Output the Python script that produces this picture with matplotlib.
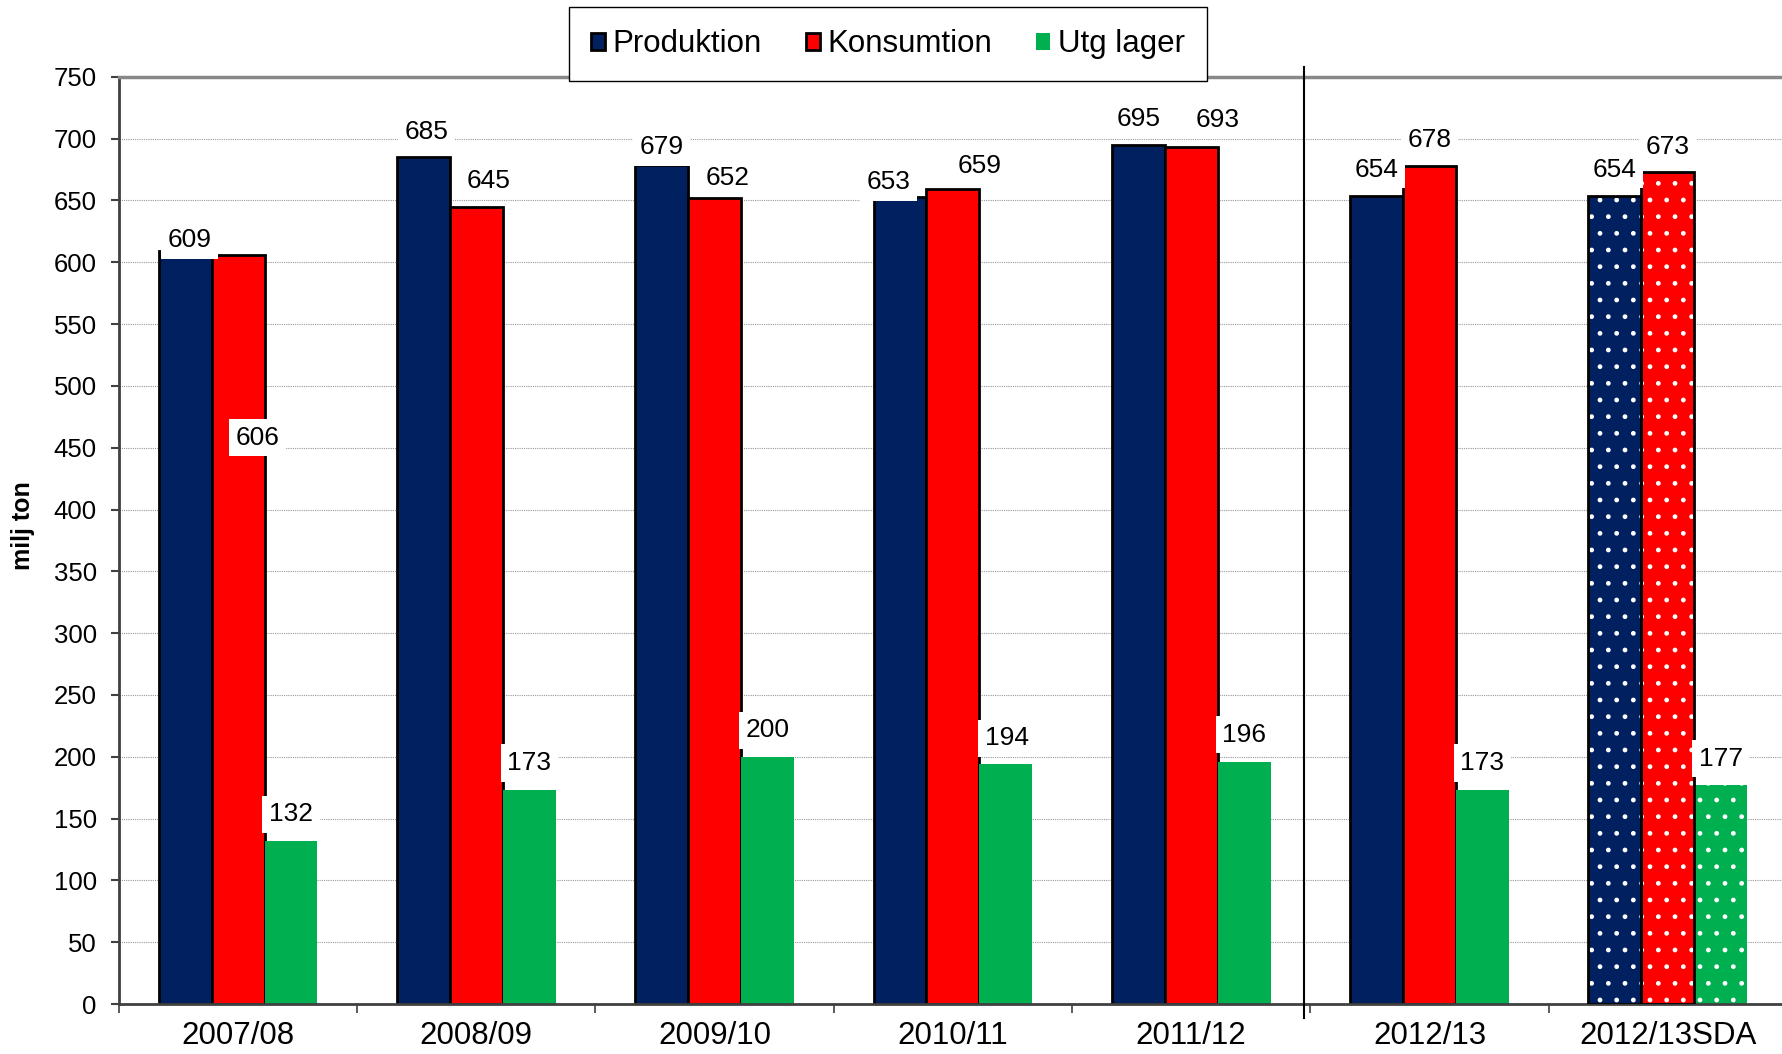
import numpy as np
import matplotlib.pyplot as plt

plt.rcParams['font.family'] = ['Liberation Sans', 'DejaVu Sans']

# data (miljoner ton)
years = ["2007/08", "2008/09", "2009/10", "2010/11", "2011/12", "2012/13", "2012/13SDA"]
produktion = [609, 685, 679, 653, 695, 654, 654]
konsumtion = [606, 645, 652, 659, 693, 678, 673]
utg_lager = [132, 173, 200, 194, 196, 173, 177]

names = ["Produktion", "Konsumtion", "Utg lager"]
colors = ["#002060", "#FF0000", "#00B050"]
edges = ["black", "black", "none"]

# hand-placed label nudges (x in categories, y in milj ton)
label_dx = [[0.017, 0.014, 0, -0.048, 0, 0, 0],
            [0.081, 0.05, 0.053, 0.112, 0.11, 0, 0],
            [0, 0, 0, 0.005, 0, 0, 0]]
label_dy = [[9, 20, 14, 12, 21, 21, 21],
            [-148, 21, 16, 19, 22, 21, 20],
            [21.5, 22, 21.5, 21, 22, 22, 21.5]]

values = [produktion, konsumtion, utg_lager]
x = np.arange(len(years))
w = 0.222
offsets = [-w, 0, w]
n_solid = 6  # last group is the dotted forecast

fig = plt.figure(figsize=(17.83, 10.54), dpi=100)
ax = fig.add_axes([0.0667, 0.0474, 0.9355, 0.8797])

handles = []
for s in range(3):
    v = values[s]
    lw = 2 if edges[s] != "none" else 0
    b = ax.bar(x[:n_solid] + offsets[s], v[:n_solid], w, color=colors[s],
               edgecolor=edges[s], linewidth=lw, zorder=2, label=names[s])
    handles.append(b)
    # dotted bar for the last group
    ax.bar(x[n_solid:] + offsets[s], v[n_solid:], w, color=colors[s],
           edgecolor="white", hatch=".", linewidth=0, zorder=2)
    if lw:
        ax.bar(x[n_solid:] + offsets[s], v[n_solid:], w, color="none",
               edgecolor=edges[s], linewidth=lw, zorder=3)

for s in range(3):
    for i in range(len(years)):
        ax.text(x[i] + offsets[s] + label_dx[s][i], values[s][i] + label_dy[s][i],
                str(values[s][i]), ha="center", va="center", fontsize=19, zorder=5,
                bbox=dict(boxstyle="square,pad=0.25", fc="white", ec="none"))

ax.set_xlim(-0.5, 6.5)
ax.set_ylim(0, 750)
ax.set_yticks(np.arange(0, 751, 50))
ax.set_xticks(x)
ax.set_xticklabels(years)
ax.set_xticks(np.arange(-0.5, 6, 1), minor=True)

ax.yaxis.grid(True, linestyle=(0, (1, 1)), color="#999999", linewidth=0.8)
ax.set_axisbelow(True)

ax.tick_params(axis="y", direction="out", length=6, width=1.5, color="#404040",
               labelsize=18.5, pad=10)
ax.tick_params(axis="x", which="major", length=0, labelsize=22.5, pad=12)
ax.tick_params(axis="x", which="minor", direction="out", length=6.5, width=1.2,
               color="#404040")

for side in ["left", "bottom"]:
    ax.spines[side].set_color("#404040")
    ax.spines[side].set_linewidth(2)
ax.spines["top"].set_color("#888888")
ax.spines["top"].set_linewidth(2.5)
ax.spines["right"].set_visible(False)

# separator between history and forecast
ax.plot([4.475, 4.475], [-11, 758], color="black", linewidth=1.5, clip_on=False, zorder=4)

fig.text(0.013, 0.501, "milj ton", rotation=90, ha="center", va="center",
         fontsize=18, fontweight="bold")

leg = fig.legend(handles=handles, loc="center", bbox_to_anchor=(0.498, 0.958), ncol=3,
                 prop={"size": 22.5},
                 handlelength=0.45, handleheight=0.45, handletextpad=0.25,
                 columnspacing=1.4, borderpad=0.7, borderaxespad=0,
                 fancybox=False, framealpha=1)
leg.get_frame().set_edgecolor("black")
leg.get_frame().set_linewidth(1)

fig.savefig("out.png", dpi=100)
